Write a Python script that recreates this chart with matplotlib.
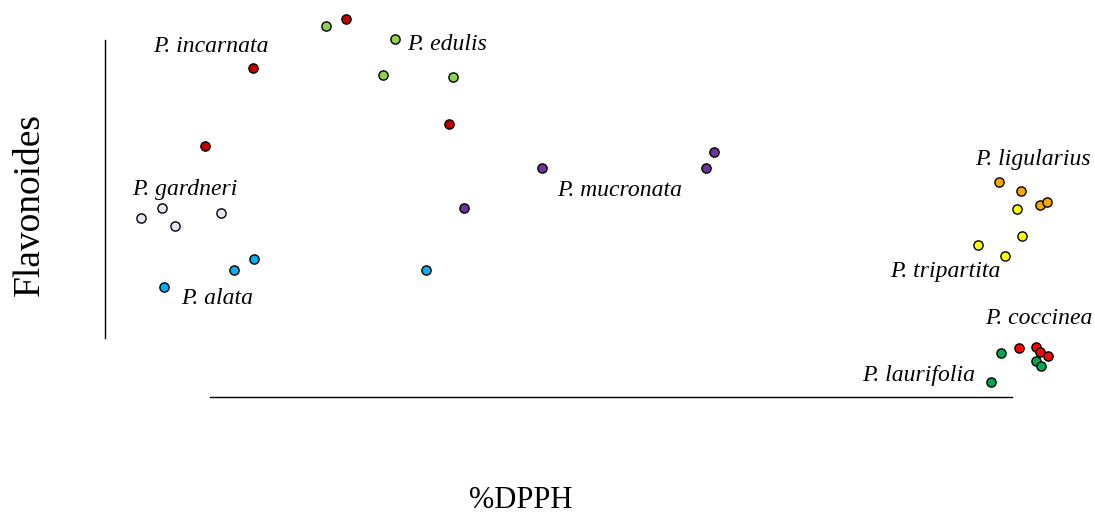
import matplotlib
matplotlib.use("Agg")
import matplotlib.pyplot as plt

# Positions (pixel units, y down)
species = ["P. incarnata", "P. edulis", "P. gardneri", "P. alata", "P. mucronata",
           "P. ligularius", "P. tripartita", "P. coccinea", "P. laurifolia"]
dpph = [
    [253, 205, 346, 449],
    [326, 395, 383, 453],
    [141, 162, 175, 221],
    [164, 234, 254, 426],
    [542, 714, 706, 464],
    [999, 1021, 1040, 1047],
    [1017, 1022, 978, 1005],
    [1019, 1036, 1040, 1048],
    [1001, 1036, 1041, 991],
]
flavon = [
    [68, 146, 19, 124],
    [26, 39, 75, 77],
    [218, 208, 226, 213],
    [287, 270, 259, 270],
    [168, 152, 168, 208],
    [182, 191, 205, 202],
    [209, 236, 245, 256],
    [348, 347, 352, 356],
    [353, 361, 366, 382],
]
colors = ["#C00000", "#92D050", "#E6E6F0", "#00B0F0", "#7030A0",
          "#F5A800", "#FFFF00", "#FF0000", "#00A651"]
label_pos = [(153, 46), (407, 44), (132, 190), (181, 298), (557, 190),
             (975, 160), (890, 272), (985, 319), (862, 375)]

plt.rcParams["font.family"] = ["Liberation Serif", "DejaVu Serif"]

fig = plt.figure(figsize=(10.95, 5.27), dpi=100)
ax = fig.add_axes([0, 0, 1, 1])
ax.set_xlim(0, 1095)
ax.set_ylim(527, 0)
ax.axis("off")

for xs, ys, c in zip(dpph, flavon, colors):
    ax.scatter(xs, ys, s=44, color=c, edgecolors="black", linewidths=1.0, zorder=3)

for name, (lx, ly) in zip(species, label_pos):
    ax.text(lx, ly, name, fontsize=17, style="italic", ha="left", va="center")

# axes lines
ax.plot([105, 105], [40, 338], color="black", linewidth=1)
ax.plot([210, 1012], [397, 397], color="black", linewidth=1)

ax.text(30, 204, "Flavonoides", fontsize=27, rotation=90, ha="center", va="center")
ax.text(521, 500, "%DPPH", fontsize=22, ha="center", va="center")

plt.savefig("out.png", dpi=100)
